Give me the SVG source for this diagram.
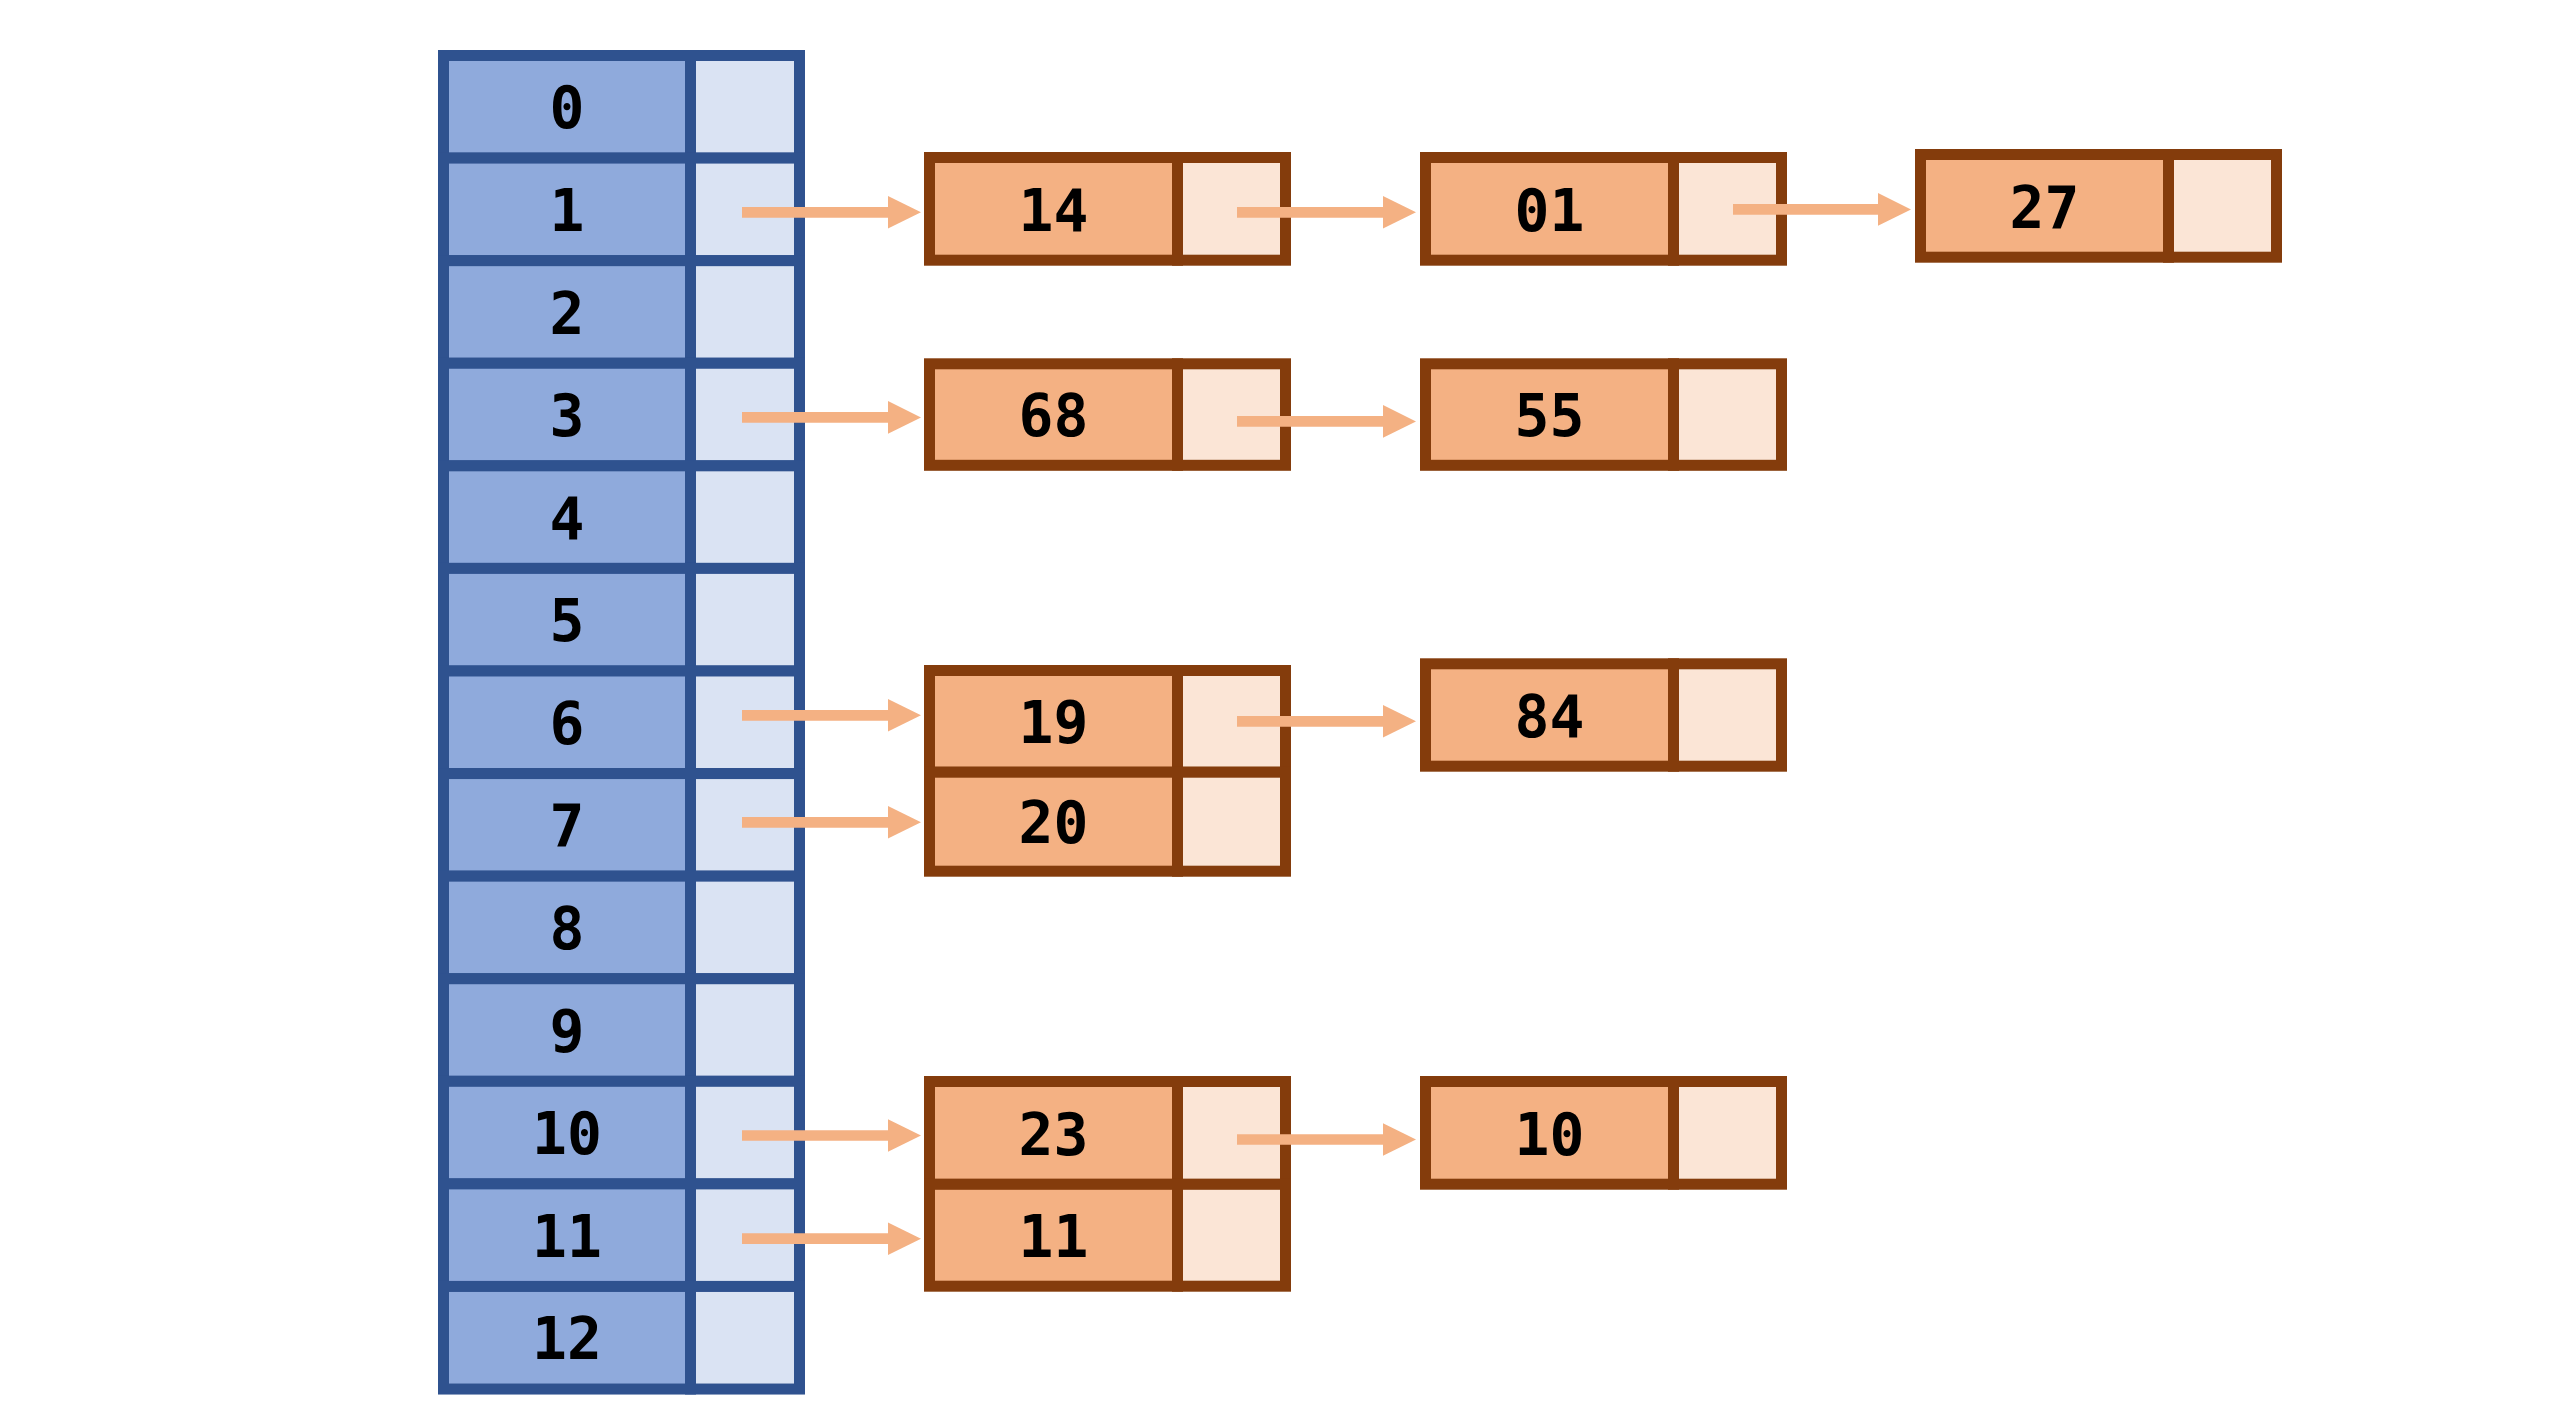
<svg xmlns="http://www.w3.org/2000/svg" width="2560" height="1425" viewBox="0 0 2560 1425">
<defs>
<style>
.tk{fill:#8FAADC;stroke:#2F528F;stroke-width:11}
.tp{fill:#DAE3F3;stroke:#2F528F;stroke-width:11}
.nk{fill:#F4B183;stroke:#843C0C;stroke-width:11}
.np{fill:#FBE5D6;stroke:#843C0C;stroke-width:11}
text{font-family:"DejaVu Sans Mono","Liberation Mono",monospace;font-weight:bold;font-size:58px;fill:#000;text-anchor:middle}
.ar{fill:none;stroke:#F4B183;stroke-width:10.7;marker-end:url(#ah)}
</style>
<marker id="ah" markerUnits="userSpaceOnUse" markerWidth="34" markerHeight="34" viewBox="0 -17 34 34" refX="0" refY="0" orient="auto">
<path d="M0,-16.3 L33,0 L0,16.3 z" fill="#F4B183"/>
</marker>
</defs>
<rect width="2560" height="1425" fill="#fff"/>
<g id="table">
<g id="row0"><rect class="tk" x="443.5" y="55.5" width="247" height="102.58"/><rect class="tp" x="690.5" y="55.5" width="109" height="102.58"/><text x="567" y="128.3">0</text></g>
<g id="row1"><rect class="tk" x="443.5" y="158.08" width="247" height="102.58"/><rect class="tp" x="690.5" y="158.08" width="109" height="102.58"/><text x="567" y="230.9">1</text></g>
<g id="row2"><rect class="tk" x="443.5" y="260.66" width="247" height="102.58"/><rect class="tp" x="690.5" y="260.66" width="109" height="102.58"/><text x="567" y="333.5">2</text></g>
<g id="row3"><rect class="tk" x="443.5" y="363.24" width="247" height="102.58"/><rect class="tp" x="690.5" y="363.24" width="109" height="102.58"/><text x="567" y="436.0">3</text></g>
<g id="row4"><rect class="tk" x="443.5" y="465.82" width="247" height="102.58"/><rect class="tp" x="690.5" y="465.82" width="109" height="102.58"/><text x="567" y="538.6">4</text></g>
<g id="row5"><rect class="tk" x="443.5" y="568.4" width="247" height="102.58"/><rect class="tp" x="690.5" y="568.4" width="109" height="102.58"/><text x="567" y="641.2">5</text></g>
<g id="row6"><rect class="tk" x="443.5" y="670.98" width="247" height="102.58"/><rect class="tp" x="690.5" y="670.98" width="109" height="102.58"/><text x="567" y="743.8">6</text></g>
<g id="row7"><rect class="tk" x="443.5" y="773.56" width="247" height="102.58"/><rect class="tp" x="690.5" y="773.56" width="109" height="102.58"/><text x="567" y="846.4">7</text></g>
<g id="row8"><rect class="tk" x="443.5" y="876.14" width="247" height="102.58"/><rect class="tp" x="690.5" y="876.14" width="109" height="102.58"/><text x="567" y="948.9">8</text></g>
<g id="row9"><rect class="tk" x="443.5" y="978.72" width="247" height="102.58"/><rect class="tp" x="690.5" y="978.72" width="109" height="102.58"/><text x="567" y="1051.5">9</text></g>
<g id="row10"><rect class="tk" x="443.5" y="1081.3" width="247" height="102.58"/><rect class="tp" x="690.5" y="1081.3" width="109" height="102.58"/><text x="567" y="1154.1">10</text></g>
<g id="row11"><rect class="tk" x="443.5" y="1183.88" width="247" height="102.58"/><rect class="tp" x="690.5" y="1183.88" width="109" height="102.58"/><text x="567" y="1256.7">11</text></g>
<g id="row12"><rect class="tk" x="443.5" y="1286.46" width="247" height="102.58"/><rect class="tp" x="690.5" y="1286.46" width="109" height="102.58"/><text x="567" y="1359.3">12</text></g>
</g>
<g id="node14"><rect class="nk" x="929.5" y="157.5" width="248" height="102.7"/><rect class="np" x="1177.5" y="157.5" width="108" height="102.7"/><text x="1053.5" y="230.5">14</text></g>
<g id="node01"><rect class="nk" x="1425.5" y="157.5" width="248" height="102.7"/><rect class="np" x="1673.5" y="157.5" width="108" height="102.7"/><text x="1549.5" y="230.5">01</text></g>
<g id="node27"><rect class="nk" x="1920.5" y="154.5" width="248" height="102.7"/><rect class="np" x="2168.5" y="154.5" width="108" height="102.7"/><text x="2044.5" y="227.5">27</text></g>
<g id="node68"><rect class="nk" x="929.5" y="363.8" width="248" height="101.5"/><rect class="np" x="1177.5" y="363.8" width="108" height="101.5"/><text x="1053.5" y="436">68</text></g>
<g id="node55"><rect class="nk" x="1425.5" y="363.8" width="248" height="101.5"/><rect class="np" x="1673.5" y="363.8" width="108" height="101.5"/><text x="1549.5" y="436">55</text></g>
<g id="node19"><rect class="nk" x="929.5" y="670.5" width="248" height="101.7"/><rect class="np" x="1177.5" y="670.5" width="108" height="101.7"/><text x="1053.5" y="743">19</text></g>
<g id="node20"><rect class="nk" x="929.5" y="772.2" width="248" height="99"/><rect class="np" x="1177.5" y="772.2" width="108" height="99"/><text x="1053.5" y="843.3">20</text></g>
<g id="node84"><rect class="nk" x="1425.5" y="663.8" width="248" height="102.4"/><rect class="np" x="1673.5" y="663.8" width="108" height="102.4"/><text x="1549.5" y="736.6">84</text></g>
<g id="node23"><rect class="nk" x="929.5" y="1081.5" width="248" height="102.8"/><rect class="np" x="1177.5" y="1081.5" width="108" height="102.8"/><text x="1053.5" y="1155">23</text></g>
<g id="node11"><rect class="nk" x="929.5" y="1184.3" width="248" height="101.9"/><rect class="np" x="1177.5" y="1184.3" width="108" height="101.9"/><text x="1053.5" y="1257.3">11</text></g>
<g id="node10"><rect class="nk" x="1425.5" y="1081.5" width="248" height="102.7"/><rect class="np" x="1673.5" y="1081.5" width="108" height="102.7"/><text x="1549.5" y="1155">10</text></g>
<g id="connectors">
<path class="ar" d="M742 212.3H888"/>
<path class="ar" d="M1237 212.3H1383"/>
<path class="ar" d="M1733 209.4H1878"/>
<path class="ar" d="M742 417.4H888"/>
<path class="ar" d="M1237 421.4H1383"/>
<path class="ar" d="M742 715.3H888"/>
<path class="ar" d="M1237 721.3H1383"/>
<path class="ar" d="M742 822.3H888"/>
<path class="ar" d="M742 1135.5H888"/>
<path class="ar" d="M1237 1139.5H1383"/>
<path class="ar" d="M742 1238.7H888"/>
</g>
</svg>
